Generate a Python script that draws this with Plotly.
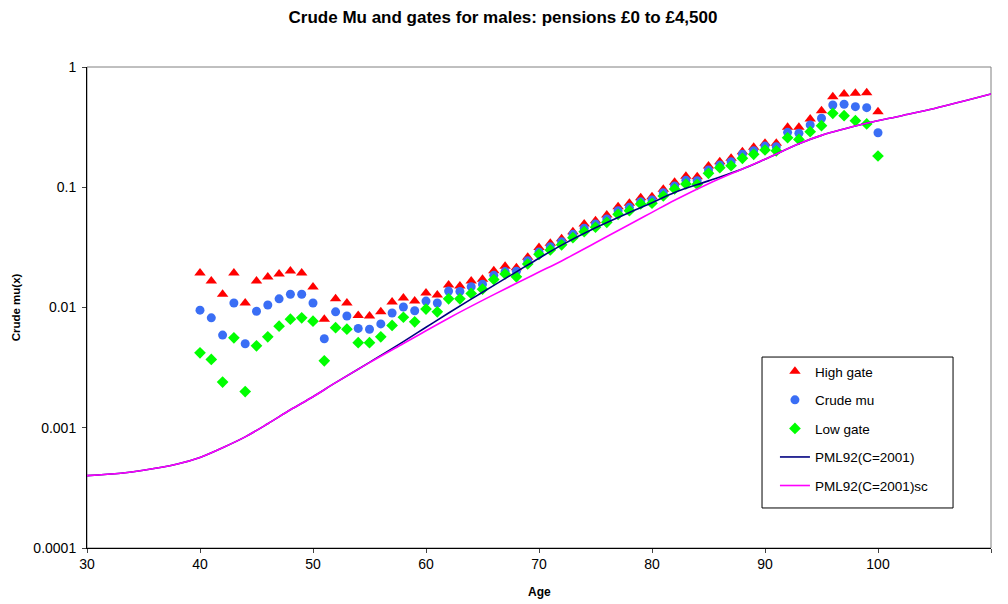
import plotly.graph_objects as go

ages_obs = list(range(40, 101))
high_gate = [0.0194, 0.0166, 0.0129, 0.0194, 0.0109, 0.0166, 0.0179, 0.0190, 0.0201, 0.0194,
             0.0148, 0.0080, 0.0118, 0.0109, 0.0086, 0.0085, 0.0092, 0.0111, 0.0120, 0.0113,
             0.0132, 0.0127, 0.0154, 0.0151, 0.0166, 0.0172, 0.0202, 0.0220, 0.0214, 0.0262,
             0.0315, 0.0342, 0.0373, 0.0427, 0.0495, 0.0527, 0.0588, 0.0689, 0.0736, 0.0819,
             0.0834, 0.0961, 0.110, 0.1233, 0.1224, 0.150, 0.163, 0.174, 0.1976, 0.215,
             0.232, 0.232, 0.315, 0.315, 0.370, 0.433, 0.566, 0.596, 0.604, 0.611, 0.425]
crude_mu = [0.0095, 0.0082, 0.0059, 0.0109, 0.0050, 0.0093, 0.0105, 0.0118, 0.0129, 0.0129,
            0.0109, 0.0055, 0.0092, 0.0085, 0.0067, 0.0066, 0.0073, 0.0090, 0.0101, 0.0094,
            0.0113, 0.0109, 0.0137, 0.0136, 0.0149, 0.0156, 0.0185, 0.0199, 0.0200, 0.0245,
            0.0290, 0.0320, 0.0352, 0.0406, 0.0456, 0.0495, 0.0545, 0.0638, 0.0681, 0.0759,
            0.0783, 0.0901, 0.1024, 0.1142, 0.1134, 0.139, 0.153, 0.163, 0.188, 0.201,
            0.220, 0.217, 0.286, 0.281, 0.330, 0.375, 0.483, 0.490, 0.468, 0.459, 0.284]
low_gate = [0.0042, 0.0037, 0.0024, 0.0056, 0.0020, 0.0048, 0.0057, 0.0070, 0.0080, 0.0082,
            0.0077, 0.0036, 0.0068, 0.0066, 0.0051, 0.0051, 0.0057, 0.0071, 0.0083, 0.0076,
            0.0097, 0.0092, 0.0118, 0.0118, 0.0131, 0.0142, 0.0171, 0.0190, 0.0180, 0.0230,
            0.0277, 0.0301, 0.0332, 0.0381, 0.0427, 0.0465, 0.0511, 0.0596, 0.0638, 0.0726,
            0.0736, 0.0846, 0.0967, 0.1064, 0.1058, 0.1306, 0.1455, 0.151, 0.174, 0.188,
            0.204, 0.201, 0.258, 0.250, 0.290, 0.325, 0.412, 0.394, 0.358, 0.336, 0.182]

ages_curve = [30, 33, 35, 38, 40, 42, 44, 46, 48, 50, 52, 55, 58, 60, 62, 65, 68, 70, 72,
              75, 78, 80, 82, 85, 88, 90, 93, 95, 99, 102, 105, 110]
pml92 = [0.000400, 0.000418, 0.000443, 0.000500, 0.000567, 0.000682, 0.00084, 0.00108,
         0.00141, 0.00181, 0.00237, 0.0035, 0.0052, 0.00685, 0.0090, 0.0134, 0.0198, 0.0257,
         0.033, 0.046, 0.0617, 0.0743, 0.0905, 0.113, 0.142, 0.171, 0.230, 0.27, 0.34,
         0.392, 0.452, 0.596]
pml92_sc = [0.000400, 0.000418, 0.000443, 0.000500, 0.000567, 0.000682, 0.00084, 0.00108,
            0.00141, 0.00181, 0.00237, 0.00348, 0.00502, 0.0064, 0.00815, 0.01146, 0.0159,
            0.0197, 0.0244, 0.0346, 0.049, 0.0618, 0.078, 0.107, 0.142, 0.171, 0.230, 0.27,
            0.34, 0.392, 0.452, 0.596]

y_tickvals = [1, 0.1, 0.01, 0.001, 0.0001]
y_ticktext = ["1", "0.1", "0.01", "0.001", "0.0001"]
x_tickvals = [30, 40, 50, 60, 70, 80, 90, 100, 110]

FONT = "Liberation Sans, Arial, sans-serif"

fig = go.Figure()
fig.add_trace(go.Scatter(x=ages_obs, y=high_gate, mode="markers", name="High gate",
                         legendgroup="a",
                         marker=dict(symbol="triangle-up", size=10, color="#FF0000")))
fig.add_trace(go.Scatter(x=ages_obs, y=crude_mu, mode="markers", name="Crude mu",
                         legendgroup="b",
                         marker=dict(symbol="circle", size=9, color="#3A6EF5")))
fig.add_trace(go.Scatter(x=ages_obs, y=low_gate, mode="markers", name="Low gate",
                         legendgroup="c",
                         marker=dict(symbol="diamond", size=9, color="#00FF00")))
fig.add_trace(go.Scatter(x=ages_curve, y=pml92, mode="lines", name="PML92(C=2001)",
                         legendgroup="d",
                         line=dict(color="#000080", width=1.6, shape="spline")))
fig.add_trace(go.Scatter(x=ages_curve, y=pml92_sc, mode="lines", name="PML92(C=2001)sc",
                         legendgroup="e",
                         line=dict(color="#FF00FF", width=1.6, shape="spline")))

fig.update_layout(
    width=992, height=596,
    margin=dict(l=79, r=9, t=59, b=56),
    paper_bgcolor="white", plot_bgcolor="white",
    font=dict(family=FONT, size=12, color="black"),
    title=dict(text="<b>Crude Mu and gates for males: pensions £0 to £4,500</b>",
               x=0.499, xanchor="center", y=1 - 9 / 596, yanchor="middle",
               font=dict(family=FONT, size=17)),
    showlegend=True,
    legend=dict(x=0.761, y=0.3991, xanchor="left", yanchor="top",
                borderwidth=0, bgcolor="rgba(0,0,0,0)",
                font=dict(family=FONT, size=13.5),
                traceorder="grouped", tracegroupgap=8,
                itemwidth=30),
    shapes=[dict(type="rect", xref="paper", yref="paper", x0=0, y0=0, x1=1, y1=1,
                 line=dict(color="#808080", width=1), layer="below"),
            dict(type="rect", xref="paper", yref="paper", x0=0.7467, y0=0.0832,
                 x1=0.958, y1=0.397, line=dict(color="black", width=1),
                 fillcolor="white", layer="above")],
    annotations=[dict(text="<b>Age</b>", xref="paper", yref="paper", x=0.5, y=-0.0915,
                      xanchor="center", yanchor="middle", showarrow=False,
                      font=dict(family=FONT, size=12))],
)
fig.update_xaxes(range=[30, 110], tickvals=x_tickvals, ticks="outside", ticklen=4,
                 ticklabelstandoff=-1, automargin=False,
                 showline=True, linecolor="black", linewidth=1, showgrid=False, zeroline=False,
                 tickfont=dict(family=FONT, size=14))
fig.update_yaxes(type="log", range=[-4, 0], tickvals=y_tickvals, ticktext=y_ticktext,
                 ticks="outside", ticklen=4, ticklabelstandoff=3, automargin=False,
                 showline=True, linecolor="black", linewidth=1, showgrid=False, zeroline=False,
                 title=dict(text="<b>Crude mu(x)</b>", font=dict(family=FONT, size=11.5), standoff=10),
                 tickfont=dict(family=FONT, size=14))

fig.write_html("out.html")
